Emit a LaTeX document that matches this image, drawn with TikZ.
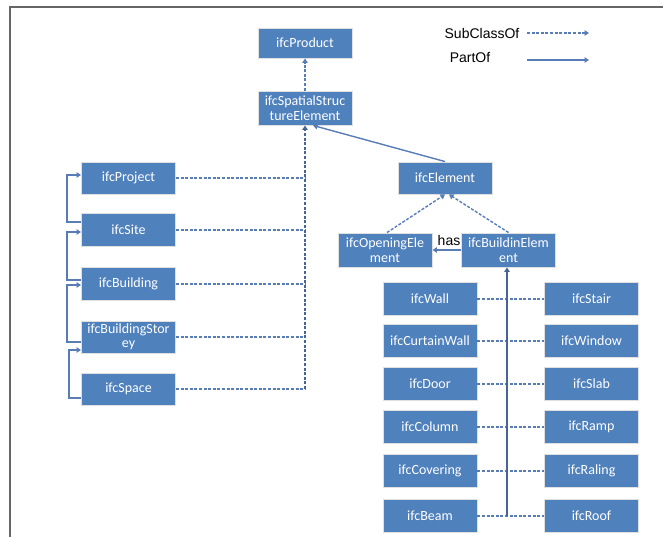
\documentclass[tikz,border=0pt]{standalone}
\usepackage{fontspec}
\setmainfont{Carlito}
\newfontfamily\arialf{Liberation Sans}
\usetikzlibrary{arrows.meta,calc,shadows}
\definecolor{boxblue}{RGB}{79,129,189}
\definecolor{lineblue}{RGB}{88,124,182}
\definecolor{darkline}{RGB}{70,100,150}
\tikzset{
  ifcbox/.style={rectangle, fill=boxblue, draw=white!88!black, line width=0.9pt,
    text=white, font=\fontsize{14}{14.5}\selectfont, align=center,
    minimum width=94pt, minimum height=32pt, inner sep=1pt,
    drop shadow={opacity=0.25, shadow xshift=0.8pt, shadow yshift=-0.8pt}},
  subcls/.style={draw=lineblue, line width=1.4pt, dash pattern=on 3pt off 1.6pt},
  partof/.style={draw=lineblue, line width=1.4pt},
  tip/.style={-{Triangle[width=5.5pt,length=4.5pt]}},
  legtext/.style={font=\arialf\fontsize{14}{14}\selectfont, text=black, inner sep=0pt}
}
\begin{document}
\begin{tikzpicture}[x=1pt,y=-1pt]
\useasboundingbox (0,0) rectangle (663,537);
% frame
\draw[gray!80!black, line width=1.3pt] (10,537) -- (10,7) -- (663,7);
% legend
\node[legtext] (lsub) at (482,33) {SubClassOf};
\node[legtext] (lpart) at (470,58) {PartOf};
\coordinate (ls1) at (527,33); \coordinate (ls2) at (589,33);
\coordinate (lp1) at (527,60); \coordinate (lp2) at (589,60);
\draw[subcls,tip] (ls1) -- (ls2);
\draw[partof,tip] (lp1) -- (lp2);
% top
\node[ifcbox, minimum height=30pt] (prod) at (305,43) {ifcProduct};
\node[ifcbox, minimum height=34pt] (sse) at (305,108) {ifcSpatialStruc\\tureElement};
% left column
\node[ifcbox] (proj) at (128.5,178) {ifcProject};
\node[ifcbox, minimum height=33pt] (site) at (128.5,230) {ifcSite};
\node[ifcbox, minimum height=33pt] (bldg) at (128.5,284) {ifcBuilding};
\node[ifcbox, minimum height=32pt] (stor) at (128.5,337) {ifcBuildingStor\\ey};
\node[ifcbox] (space) at (128.5,389) {ifcSpace};
% element part
\node[ifcbox] (elem) at (445,178) {ifcElement};
\node[ifcbox, minimum height=34pt] (open) at (385,250) {ifcOpeningEle\\ment};
\node[ifcbox, minimum height=34pt] (bel) at (508.5,250) {ifcBuildinElem\\ent};
% element rows
\node[ifcbox, minimum height=33pt] (wall) at (430,299) {ifcWall};
\node[ifcbox, minimum height=33pt] (stair) at (591.5,299) {ifcStair};
\node[ifcbox, minimum height=33pt] (cwall) at (430,341) {ifcCurtainWall};
\node[ifcbox, minimum height=33pt] (window) at (591.5,341) {ifcWindow};
\node[ifcbox, minimum height=33pt] (door) at (430,384) {ifcDoor};
\node[ifcbox, minimum height=33pt] (slab) at (591.5,384) {ifcSlab};
\node[ifcbox, minimum height=33pt] (column) at (430,427) {ifcColumn};
\node[ifcbox, minimum height=33pt] (ramp) at (591.5,427) {ifcRamp};
\node[ifcbox, minimum height=33pt] (covering) at (430,471) {ifcCovering};
\node[ifcbox, minimum height=33pt] (raling) at (591.5,471) {ifcRaling};
\node[ifcbox, minimum height=33pt] (beam) at (430,516) {ifcBeam};
\node[ifcbox, minimum height=33pt] (roof) at (591.5,516) {ifcRoof};
% subclass: sse -> product
\draw[subcls,tip] (sse.north) -- (prod.south);
% left spine
\coordinate (lspine) at (sse.south |- space.east);
\foreach \n in {proj,site,bldg,stor,space}{
  \draw[subcls] (\n.east) -- (sse.south |- \n.east);
}
\draw[subcls,draw=darkline,tip] (lspine) -- (sse.south);
% left partOf brackets
\draw[partof,tip] ($(site.west)+(0,-8)$) -- ++(-14,0) |- ($(proj.west)+(0,-3)$);
\draw[partof,tip] ($(bldg.west)+(0,-4)$) -- ++(-14,0) |- ($(site.west)+(0,2)$);
\draw[partof,tip] ($(stor.west)+(0,5)$) -- ++(-14,0) |- ($(bldg.west)+(0,1)$);
\draw[partof,tip] ($(space.west)+(0,9)$) -- ++(-12,0) |- ($(stor.west)+(0,13)$);
% element partOf spatial structure
\draw[partof,tip] (elem.north) -- ($(sse.south)+(8,0)$);
% subclass to ifcElement
\draw[subcls,tip] ($(open.north)+(2,0)$) -- ($(elem.south)+(0,0)$);
\draw[subcls,tip] ($(bel.north)+(0,0)$) -- ($(elem.south)+(4,0)$);
% has
\draw[partof,tip] (bel.west) -- (open.east);
\node[legtext] (has) at (449,240) {has};
% right spine
\coordinate (rspine) at ($(bel.south |- beam.east)+(-1.5,0)$);
\foreach \a/\b in {wall/stair,cwall/window,door/slab,column/ramp,covering/raling,beam/roof}{
  \draw[subcls] (\a.east) -- (\b.west);
}
\draw[partof,draw=darkline,line width=1.8pt,tip] (rspine) -- ($(bel.south)+(-1.5,0)$);
\end{tikzpicture}
\end{document}
